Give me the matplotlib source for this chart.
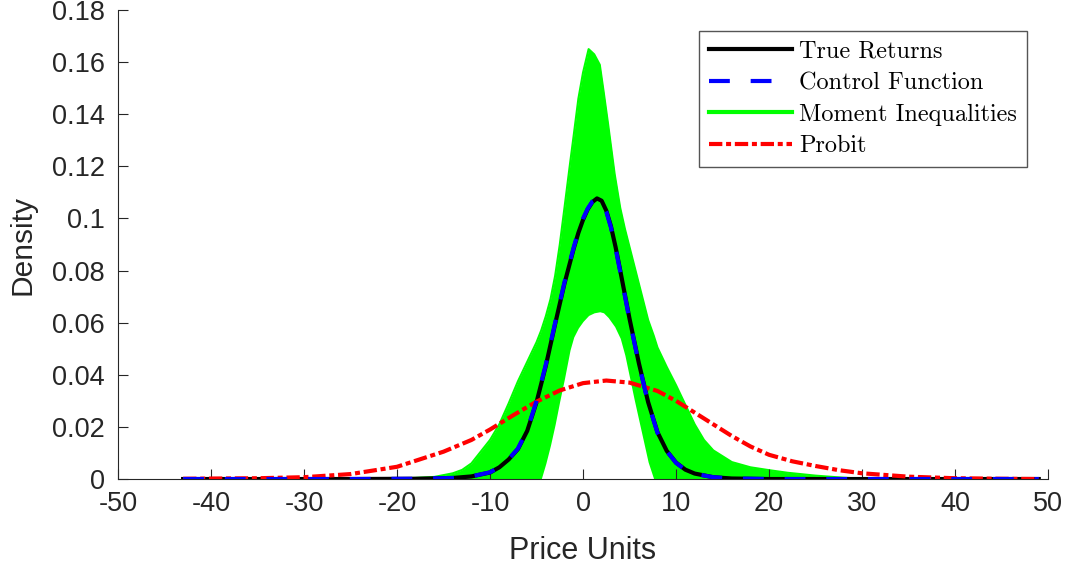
import matplotlib
matplotlib.use('Agg')
import matplotlib.pyplot as plt
from matplotlib.lines import Line2D

# ---------------- data ----------------
black_x = [-43, -25, -18, -14, -12, -10, -9, -8, -7, -6, -5, -4, -3, -2, -1, -0.5, 0, 0.5, 1, 1.5, 2, 2.5, 3, 3.5, 4, 5, 6, 7, 8, 9, 10, 11, 12, 14, 16, 20, 49]
black_y = [0, 0, 0.0001, 0.0004, 0.0010, 0.0025, 0.0045, 0.0075, 0.0115, 0.0185, 0.0295, 0.0435, 0.0595, 0.0750, 0.0885, 0.0945, 0.0995, 0.1035, 0.1063, 0.1077, 0.1068, 0.1030, 0.0970, 0.0890, 0.0800, 0.0615, 0.0445, 0.0295, 0.0180, 0.0108, 0.0063, 0.0036, 0.0021, 0.0007, 0.0002, 0, 0]

blue_x = [-43, -25, -18, -14, -12, -10, -9, -8, -7, -6, -5, -4, -3, -2, -1, -0.5, 0, 0.5, 1, 1.5, 2, 2.5, 3, 3.5, 4, 5, 6, 7, 8, 9, 10, 11, 12, 14, 16, 20, 49]
blue_y = [0, 0, 0.0001, 0.0004, 0.0010, 0.0026, 0.0046, 0.0076, 0.0117, 0.0188, 0.0300, 0.0440, 0.0600, 0.0755, 0.0890, 0.0950, 0.1000, 0.1038, 0.1065, 0.1075, 0.1065, 0.1026, 0.0965, 0.0885, 0.0795, 0.0610, 0.0442, 0.0292, 0.0178, 0.0107, 0.0062, 0.0035, 0.0020, 0.0007, 0.0002, 0, 0]

red_x = [-43, -35, -30, -25, -20, -15, -12, -10, -7.5, -5, -2.5, 0, 2.5, 5, 8, 10, 12, 14, 16, 18, 20, 22.5, 25, 27.5, 30, 35, 40, 45, 49]
red_y = [0.0001, 0.0003, 0.0007, 0.0019, 0.0047, 0.0105, 0.0150, 0.0190, 0.0245, 0.0297, 0.0340, 0.0368, 0.0378, 0.0370, 0.0338, 0.0300, 0.0255, 0.0210, 0.0165, 0.0125, 0.0093, 0.0068, 0.0050, 0.0034, 0.0022, 0.0009, 0.0003, 0.0001, 0.0]

green_x = [-20, -16, -14, -13, -12, -11, -10, -9, -8, -7, -6, -5, -4.5, -4, -3.5, -3, -2.5, -2, -1.4, -1, -0.5, 0, 0.6, 1.2, 1.8, 2.2, 2.7, 3.4, 4, 4.5, 5, 5.5, 6, 6.5, 7, 7.6, 8, 9, 10, 11, 12, 13, 14, 16, 18, 20, 22, 25, 28, 31]
green_upper = [0.0001, 0.0008, 0.0022, 0.0035, 0.0060, 0.0105, 0.0150, 0.0210, 0.0290, 0.0375, 0.0450, 0.0525, 0.0570, 0.0625, 0.0690, 0.0780, 0.0900, 0.1040, 0.1210, 0.1320, 0.1460, 0.1560, 0.1650, 0.1630, 0.1590, 0.1490, 0.1360, 0.1170, 0.1040, 0.0960, 0.0890, 0.0820, 0.0750, 0.0680, 0.0610, 0.0550, 0.0505, 0.0430, 0.0360, 0.0285, 0.0210, 0.0150, 0.0110, 0.0065, 0.0045, 0.0034, 0.0024, 0.0013, 0.0005, 0.0]
green_lower = [0, 0, 0, 0, 0, 0, 0, 0, 0, 0, 0, 0, 0, 0.0060, 0.0130, 0.0210, 0.0300, 0.0385, 0.0495, 0.0545, 0.0580, 0.0605, 0.0628, 0.0638, 0.0642, 0.0638, 0.0620, 0.0585, 0.0540, 0.0475, 0.0390, 0.0305, 0.0225, 0.0145, 0.0065, 0, 0, 0, 0, 0, 0, 0, 0, 0, 0, 0, 0, 0, 0, 0]

x_ticks = [-50, -40, -30, -20, -10, 0, 10, 20, 30, 40, 50]
x_tick_labels = ['-50', '-40', '-30', '-20', '-10', '0', '10', '20', '30', '40', '50']
y_ticks = [0, 0.02, 0.04, 0.06, 0.08, 0.1, 0.12, 0.14, 0.16, 0.18]
y_tick_labels = ['0', '0.02', '0.04', '0.06', '0.08', '0.1', '0.12', '0.14', '0.16', '0.18']
legend_labels = ['True Returns', 'Control Function', 'Moment Inequalities', 'Probit']

# ---------------- figure ----------------
plt.rcParams['font.family'] = ['Liberation Sans', 'DejaVu Sans']
axis_col = '#262626'

fig = plt.figure(figsize=(10.7, 5.7), dpi=100)
ax = fig.add_axes([0.1103, 0.1596, 0.8692, 0.8228])

green = '#00ff00'
ax.fill_between(green_x, green_lower, green_upper, color=green, lw=0, zorder=1)
ax.plot(green_x, green_upper, color=green, lw=1.5, zorder=1)

red_ls = (0, (3.2, 0.9, 1.2, 0.9))
blue_ls = (0, (5, 5))
ax.plot(black_x, black_y, color='black', lw=3, zorder=3)
ax.plot(red_x, red_y, color='red', lw=3, ls=red_ls, zorder=4)
ax.plot(blue_x, blue_y, color='blue', lw=3, ls=blue_ls, zorder=5)

ax.set_xlim(-50, 50)
ax.set_ylim(0, 0.18)
ax.set_xticks(x_ticks)
ax.set_xticklabels(x_tick_labels)
ax.set_yticks(y_ticks)
ax.set_yticklabels(y_tick_labels)

for s in ['top', 'right']:
    ax.spines[s].set_visible(False)
for s in ['left', 'bottom']:
    ax.spines[s].set_color(axis_col)
    ax.spines[s].set_linewidth(0.8)
ax.tick_params(direction='in', length=7, width=0.8, color=axis_col,
               labelcolor=axis_col, labelsize=19.5)
ax.tick_params(axis='x', pad=8.5)
ax.tick_params(axis='y', pad=9.5)

ax.set_xlabel('Price Units', fontsize=22, color=axis_col, labelpad=14)
ax.set_ylabel('Density', fontsize=21.5, color=axis_col, labelpad=11)

handles = [
    Line2D([], [], color='black', lw=3),
    Line2D([], [], color='blue', lw=3, ls=blue_ls),
    Line2D([], [], color=green, lw=3),
    Line2D([], [], color='red', lw=3, ls=red_ls),
]
leg = ax.legend(handles, legend_labels, loc='upper right',
                bbox_to_anchor=(0.977, 0.955), borderaxespad=0,
                prop={'family': 'cmr10', 'size': 17.5}, frameon=True,
                fancybox=False, framealpha=1, edgecolor='#555555',
                handlelength=3.4, handletextpad=0.3, labelspacing=0.38,
                borderpad=0.4)
leg.get_frame().set_linewidth(1.0)

fig.savefig('out.png', dpi=100)
